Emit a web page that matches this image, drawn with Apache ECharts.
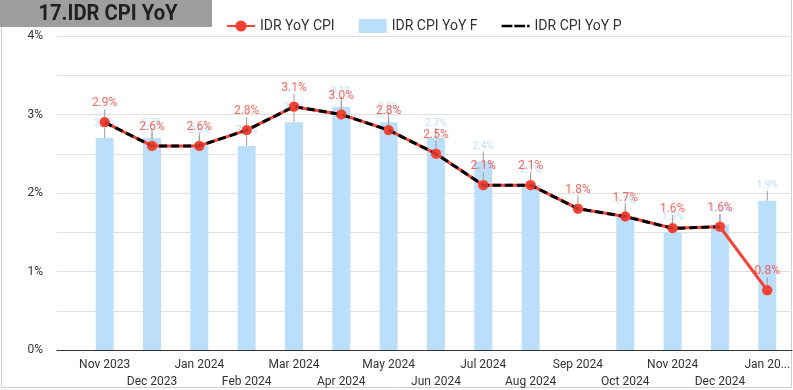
<!DOCTYPE html>
<html>
<head>
<meta charset="utf-8">
<script src="https://cdn.jsdelivr.net/npm/echarts@6/dist/echarts.min.js"></script>
<style>
html,body{margin:0;padding:0;background:#fff;}
#c{width:793px;height:390px;}
</style>
</head>
<body>
<div id="c"></div>
<script>
const categories = ['Nov 2023','Dec 2023','Jan 2024','Feb 2024','Mar 2024','Apr 2024','May 2024','Jun 2024','Jul 2024','Aug 2024','Sep 2024','Oct 2024','Nov 2024','Dec 2024','Jan 2025'];
const cpiActual = [2.9, 2.6, 2.6, 2.8, 3.1, 3.0, 2.8, 2.5, 2.1, 2.1, 1.8, 1.7, 1.55, 1.57, 0.76];
const cpiForecast = [2.7, 2.7, 2.6, 2.6, 2.9, 3.1, 2.9, 2.7, 2.4, 2.1, null, 1.7, 1.5, 1.6, 1.9];
const cpiPrevious = [2.9, 2.6, 2.6, 2.8, 3.1, 3.0, 2.8, 2.5, 2.1, 2.1, 1.8, 1.7, 1.55, 1.57, null];
const yTicks = ['0%','1%','2%','3%','4%'];

const RED = '#f44336';
const BLUE = '#bbdefb';
const FONT = 'Roboto';
const fmt = p => (p.value == null ? '' : Number(p.value).toFixed(1) + '%');

const chart = echarts.init(document.getElementById('c'), null, {renderer: 'canvas'});
chart.setOption({
  animation: false,
  textStyle: {fontFamily: FONT},
  graphic: [
    {type: 'rect', shape: {x: 1.5, y: -2, width: 790, height: 389.5}, style: {fill: 'none', stroke: '#cfcfcf', lineWidth: 1}, z: 0},
    {type: 'rect', shape: {x: 0, y: 0, width: 212, height: 27}, style: {fill: '#9e9e9e'}, z: 10},
    {type: 'text', x: 108, y: 14, scaleX: 0.92, style: {text: '17.IDR CPI YoY', font: 'bold 22px Roboto', fill: '#212121', align: 'center', verticalAlign: 'middle'}, z: 11}
  ],
  legend: {
    left: 221, top: 14,
    itemWidth: 28, itemHeight: 14, itemGap: 24,
    textStyle: {fontFamily: FONT, fontSize: 14, color: '#333'},
    data: [
      {name: 'IDR YoY CPI'},
      {name: 'IDR CPI YoY F', icon: 'rect'},
      {name: 'IDR CPI YoY P', icon: 'path://M0,6 h11 v2.5 h-11z M13,6 h11 v2.5 h-11z M26,6 h2.5 v2.5 h-2.5z'}
    ]
  },
  grid: [
    {left: 57, right: 1, top: 36, bottom: 40},
    {left: 81, right: -2, top: 36, bottom: 40}
  ],
  xAxis: [
    {type: 'category', gridIndex: 0, data: categories, axisLine: {lineStyle: {color: '#333'}}, axisTick: {show: false}, axisLabel: {show: false}},
    {type: 'category', gridIndex: 1, data: categories, axisLine: {show: false}, axisTick: {show: false},
      axisLabel: {interval: 0, margin: 6, fontSize: 12, color: '#333', lineHeight: 17, fontFamily: FONT,
        formatter: (v, i) => {
          let t = (i === categories.length - 1) ? v.slice(0, 6) + '...' : v;
          return (i % 2 === 1) ? '\n' + t : t;
        }}}
  ],
  yAxis: [
    {type: 'value', gridIndex: 0, min: 0, max: 4, interval: 0.5,
      axisLine: {show: false}, axisTick: {show: false},
      splitLine: {lineStyle: {color: '#e0e0e0'}},
      axisLabel: {margin: 14, fontSize: 12, color: '#333', fontFamily: FONT,
        formatter: v => (Number.isInteger(v) ? yTicks[v] : '')}},
    {type: 'value', gridIndex: 1, min: 0, max: 4, show: false, splitLine: {show: false}}
  ],
  series: [
    {name: 'IDR CPI YoY F', type: 'bar', xAxisIndex: 1, yAxisIndex: 1, data: cpiForecast, barWidth: 18,
      itemStyle: {color: BLUE}, z: 1,
      label: {show: true, position: 'top', distance: 2, color: BLUE, fontSize: 10, fontFamily: FONT, formatter: fmt},
      labelLayout: {dy: -8},
      labelLine: {show: true, lineStyle: {color: '#9e9e9e', width: 1}}
    },
    {name: 'IDR YoY CPI', type: 'line', xAxisIndex: 1, yAxisIndex: 1, data: cpiActual,
      lineStyle: {color: RED, width: 3}, itemStyle: {color: RED}, symbol: 'circle', symbolSize: 10, z: 2
    },
    {name: 'IDR CPI YoY P', type: 'line', xAxisIndex: 1, yAxisIndex: 1, data: cpiPrevious,
      lineStyle: {color: '#000', width: 3, type: [8, 4]}, itemStyle: {color: '#000'}, symbol: 'none', z: 3
    },
    {name: 'IDR YoY CPI', type: 'scatter', xAxisIndex: 1, yAxisIndex: 1, data: cpiActual,
      symbol: 'circle', symbolSize: 10, itemStyle: {color: RED}, z: 4,
      label: {show: true, position: 'top', distance: 2, color: RED, fontSize: 12, fontFamily: FONT, formatter: fmt},
      labelLayout: {dy: -6},
      labelLine: {show: true, lineStyle: {color: '#9e9e9e', width: 1}}
    }
  ]
});
</script>
</body>
</html>
